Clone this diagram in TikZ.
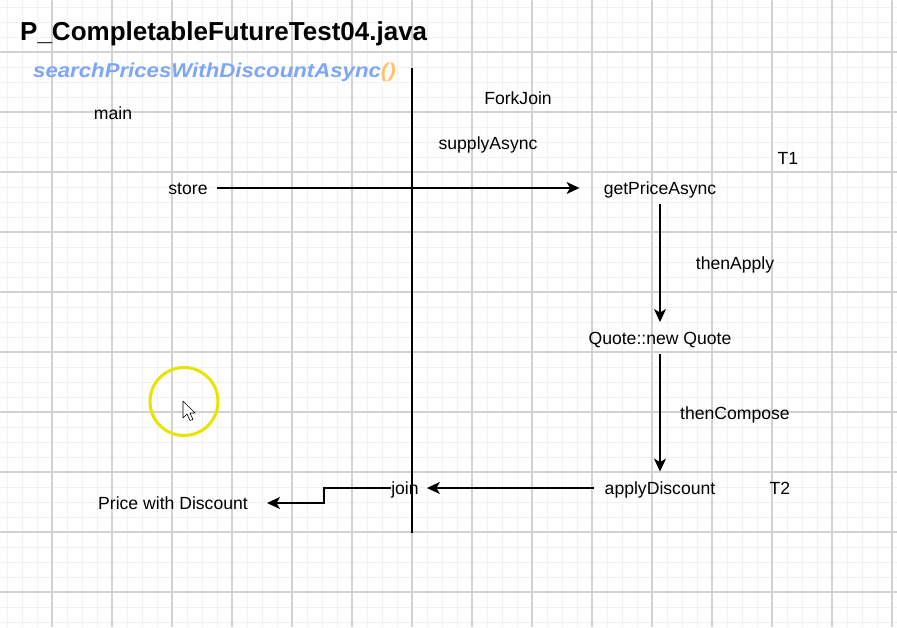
\documentclass[tikz,border=0pt]{standalone}
\usepackage{fontspec}
\setmainfont{Liberation Sans}
\usetikzlibrary{arrows.meta}
\definecolor{gridmajor}{HTML}{D2D2D2}
\definecolor{gridminor}{HTML}{F1F1F1}
\definecolor{subblue}{HTML}{7DA6F7}
\definecolor{suborange}{HTML}{FFC266}
\definecolor{hilite}{HTML}{E8E400}
\tikzset{
  lbl/.style={inner sep=0pt, anchor=base, font=\fontsize{17.6}{20}\selectfont},
  arr/.style={line width=1.5pt, -{Stealth[length=13pt,width=12pt,inset=3.5pt]}},
  plain/.style={line width=1.5pt},
  minorline/.style={gridminor, line width=0.8pt},
  majorline/.style={gridmajor, line width=1.2pt},
}
\begin{document}
\begin{tikzpicture}[x=1pt,y=-1pt]
\useasboundingbox (0,0) rectangle (897,627);
\fill[white] (0,0) rectangle (897,627);
% grid
\foreach \x in {7,22,...,897} \draw[minorline] (\x,0) -- (\x,627);
\foreach \y in {7,22,...,627} \draw[minorline] (0,\y) -- (897,\y);
\foreach \x in {52,112,...,892} \draw[majorline] (\x,0) -- (\x,627);
\foreach \y in {52,112,...,620} \draw[majorline] (0,\y) -- (897,\y);
% titles
\node[inner sep=0pt, anchor=base west, font=\fontsize{26}{28}\selectfont\bfseries] (title) at (20,40) {P\_CompletableFutureTest04.java};
\node[inner sep=0pt, anchor=base west, font=\fontsize{20}{22}\selectfont\bfseries\itshape] (sub) at (33,77) {\scalebox{1.11}[1]{\textcolor{subblue}{searchPricesWithDiscountAsync}\textcolor{suborange}{()}}};
% vertical separator
\coordinate (vtop) at (412,68);
\coordinate (vbot) at (412,533);
\draw[plain] (vtop) -- (vbot);
% labels
\node[lbl] (main) at (113,119.5) {main};
\node[lbl] (fj) at (518,104.5) {ForkJoin};
\node[lbl] (sa) at (488,149.5) {supplyAsync};
\node[lbl] (t1) at (788,164.5) {T1};
\node[lbl] (store) at (188,194.5) {store};
\node[lbl] (gpa) at (660,194.5) {getPriceAsync};
\node[lbl] (tapply) at (735,269.5) {thenApply};
\node[lbl] (quote) at (660,344.5) {Quote::new Quote};
\node[lbl] (tcomp) at (735,419.5) {thenCompose};
\node[lbl] (apd) at (660,494.5) {applyDiscount};
\node[lbl] (t2) at (780,494.5) {T2};
\node[lbl] (join) at (405,494.5) {join};
\node[lbl] (price) at (173,509.5) {Price with Discount};
% connectors
\draw[arr, shorten <=9pt, shorten >=24pt] (store.east |- 0,188) -- (gpa.west |- 0,188);
\draw[arr, shorten <=6pt, shorten >=10pt] (gpa.south) -- (quote.north);
\draw[arr, shorten <=6pt, shorten >=10pt] (quote.south) -- (apd.north);
\draw[arr, shorten <=11pt, shorten >=8pt] (apd.west |- 0,488) -- (join.east |- 0,488);
\draw[arr, shorten >=19pt] (join.west |- 0,488) -- ++(-67,0) |- (price.east |- 0,503);
% highlight circle and cursor
\draw[hilite, line width=3pt] (184,401.5) circle (34);
\draw[fill=white, line width=0.6pt, line join=round] (183,401) -- (183,418) -- (187,414) -- (190,420.5) -- (193,419.5) -- (190,413) -- (195,413) -- cycle;
\end{tikzpicture}
\end{document}
